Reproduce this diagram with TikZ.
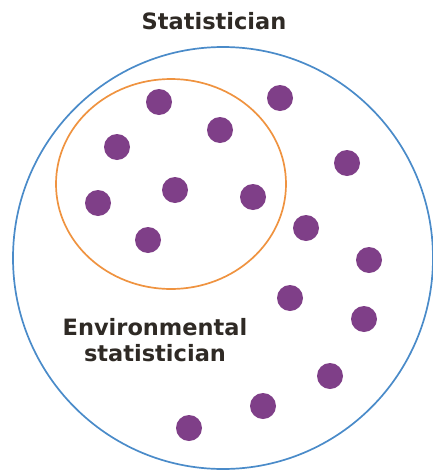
\documentclass[tikz,border=0pt]{standalone}
\usepackage{fontspec}
\setmainfont{DejaVu Sans}
\usepackage{tikz}
\usetikzlibrary{positioning}
\definecolor{dotpurple}{HTML}{7F3F88}
\definecolor{ringblue}{HTML}{4A8BC9}
\definecolor{ringorange}{HTML}{EF9340}
\definecolor{labeltext}{HTML}{2F2A25}

\begin{document}
\begin{tikzpicture}[x=1pt, y=-1pt,
  ring/.style={line width=1.7pt},
  label/.style={font=\bfseries\fontsize{22.5}{26}\selectfont, text=labeltext, align=center, inner sep=0pt},
  pt/.style={fill=dotpurple}]
\useasboundingbox (0,0) rectangle (432,472);
\draw[ring, ringblue] (223,258) ellipse [x radius=210, y radius=211];
\draw[ring, ringorange] (171,184) ellipse [x radius=115, y radius=105];
% inside the orange ring
\fill[pt] (159,102) circle [radius=13];
\fill[pt] (220,130) circle [radius=13];
\fill[pt] (117,147) circle [radius=13];
\fill[pt] (175,190) circle [radius=13];
\fill[pt] (98,203) circle [radius=13];
\fill[pt] (253,197) circle [radius=13];
\fill[pt] (148,240) circle [radius=13];
% outside the orange ring
\fill[pt] (280,98) circle [radius=13];
\fill[pt] (347,163) circle [radius=13];
\fill[pt] (306,228) circle [radius=13];
\fill[pt] (369,260) circle [radius=13];
\fill[pt] (290,298) circle [radius=13];
\fill[pt] (364,319) circle [radius=13];
\fill[pt] (330,376) circle [radius=13];
\fill[pt] (263,406) circle [radius=13];
\fill[pt] (189,428) circle [radius=13];
\node[label] (stat) at (214,21) {Statistician};
\node[label] (envstat) at (155,340) {Environmental\\statistician};
\end{tikzpicture}
\end{document}
